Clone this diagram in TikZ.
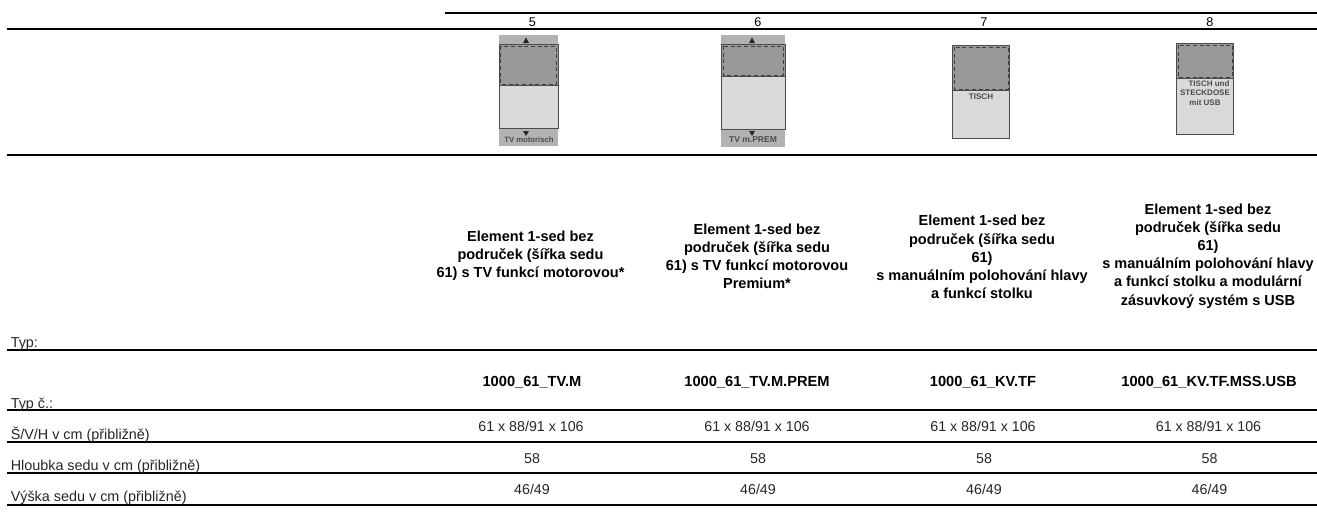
\documentclass[tikz,border=0pt]{standalone}
\usepackage{fontspec}
\setmainfont{Liberation Sans}
\usepackage{tikz}
\usetikzlibrary{positioning}

\definecolor{darkpanel}{gray}{0.60}
\definecolor{lightpanel}{gray}{0.85}
\definecolor{midpanel}{gray}{0.70}

\tikzset{
    x=0.0264cm, y=-0.0264cm,
    rule/.style={line width=1.4pt},
    rowlabel/.style={anchor=base west, inner sep=0pt, font=\fontsize{10.8}{12}\selectfont, text=black!85},
    colnum/.style={anchor=base, inner sep=0pt, font=\fontsize{9.5}{10}\selectfont},
    cell/.style={anchor=base, inner sep=0pt, font=\fontsize{10.7}{12}\selectfont, text=black!85},
    typetext/.style={align=center, inner sep=0pt, font=\bfseries\fontsize{10.9}{13.6}\selectfont},
    partno/.style={anchor=base, inner sep=0pt, font=\bfseries\fontsize{11}{12}\selectfont},
    panel/.style={draw=black!70, line width=0.5pt},
    frame/.style={draw=black!75, dashed, dash pattern=on 3pt off 2pt, line width=0.5pt},
    tag/.style={inner sep=0pt, align=center, text=black!70, font=\bfseries\fontsize{5.8}{7}\selectfont},
    tiparrow/.style={fill=black!85, draw=none},
}

\begin{document}
\begin{tikzpicture}
    \useasboundingbox (0,0) rectangle (1317,511);

    % rules
    \draw[rule] (445,13) -- (1317,13);
    \draw[rule] (7,29) -- (1317,29);
    \draw[rule] (7,155) -- (1317,155);
    \draw[rule] (7,350) -- (1317,350);
    \draw[rule] (7,410) -- (1317,410);
    \draw[rule] (7,442) -- (1317,442);
    \draw[rule] (7,473) -- (1317,473);
    \draw[rule] (7,505) -- (1317,505);

    % column numbers
    \node[colnum] (numA) at (532.5,26.5) {5};
    \node[colnum] (numB) at (758,26.5) {6};
    \node[colnum] (numC) at (984,26.5) {7};
    \node[colnum] (numD) at (1210,26.5) {8};

    % sketch 5
    \fill[midpanel] (499,35) rectangle (558,146);
    \draw[panel, fill=darkpanel] (499,44) rectangle (558,85);
    \draw[panel, fill=lightpanel] (499,85) rectangle (558,128);
    \draw[frame] (500,46) rectangle (556,84);
    \fill[tiparrow] (523,43) -- (526,37.5) -- (529,43) -- cycle;
    \fill[tiparrow] (523,131) -- (526,136) -- (529,131) -- cycle;
    \node[tag] (tagA) at (529,140) {TV motorisch};

    % sketch 6
    \fill[midpanel] (721,35) rectangle (785,147);
    \draw[panel, fill=darkpanel] (721,44) rectangle (785,76);
    \draw[panel, fill=lightpanel] (721,76) rectangle (785,129);
    \draw[frame] (723,46) rectangle (783,75);
    \fill[tiparrow] (749,43) -- (752,37.5) -- (755,43) -- cycle;
    \fill[tiparrow] (749,131) -- (752,136) -- (755,131) -- cycle;
    \node[tag, font=\bfseries\fontsize{6.4}{7}\selectfont] (tagB) at (753,139.5) {TV m.PREM};

    % sketch 7
    \draw[panel, fill=lightpanel] (952,45) rectangle (1009,138);
    \draw[panel, fill=darkpanel] (952,45) rectangle (1009,90);
    \draw[frame] (954,47) rectangle (1008,89);
    \node[tag, font=\bfseries\fontsize{6.1}{7}\selectfont] (tagC) at (981,97) {TISCH};

    % sketch 8
    \draw[panel, fill=lightpanel] (1176,43) rectangle (1233,134);
    \draw[panel, fill=darkpanel] (1176,43) rectangle (1233,78);
    \draw[frame] (1178,45) rectangle (1232,77);
    \node[tag, font=\bfseries\fontsize{6}{7.3}\selectfont] (tagD) at (1205,93) {\hspace*{6pt}TISCH und\\STECKDOSE\\mit USB};

    % type row
    \node[typetext] (typeA) at (530.5,256) {Element 1-sed bez\\područek (šířka sedu\\61) s TV funkcí motorovou*};
    \node[typetext] (typeB) at (757,256) {Element 1-sed bez\\područek (šířka sedu\\61) s TV funkcí motorovou\\Premium*};
    \node[typetext] (typeC) at (982,257) {Element 1-sed bez\\područek (šířka sedu\\61)\\s manuálním polohování hlavy\\a funkcí stolku};
    \node[typetext] (typeD) at (1208,256) {Element 1-sed bez\\područek (šířka sedu\\61)\\s manuálním polohování hlavy\\a funkcí stolku a modulární\\zásuvkový systém s USB};

    % row labels
    \node[rowlabel] (rowType) at (10.5,347) {Typ:};
    \node[rowlabel] (rowNo) at (10.5,408) {Typ č.:};
    \node[rowlabel] (rowSize) at (10.5,439) {Š/V/H v cm (přibližně)};
    \node[rowlabel] (rowDepth) at (10.5,470) {Hloubka sedu v cm (přibližně)};
    \node[rowlabel] (rowHeight) at (10.5,501.5) {Výška sedu v cm (přibližně)};

    % part numbers
    \node[partno] (noA) at (532,386) {1000\_61\_TV.M};
    \node[partno] (noB) at (757,386) {1000\_61\_TV.M.PREM};
    \node[partno] (noC) at (983,386) {1000\_61\_KV.TF};
    \node[partno] (noD) at (1209,386) {1000\_61\_KV.TF.MSS.USB};

    % value rows
    \foreach \cx/\dx/\cn in {531/532/A, 757/758/B, 983/984/C, 1208.5/1209.5/D} {
        \node[cell] (size\cn) at (\cx,431.5) {61 x 88/91 x 106};
        \node[cell] (depth\cn) at (\dx,463) {58};
        \node[cell] (height\cn) at (\dx,494.5) {46/49};
    }
\end{tikzpicture}
\end{document}
